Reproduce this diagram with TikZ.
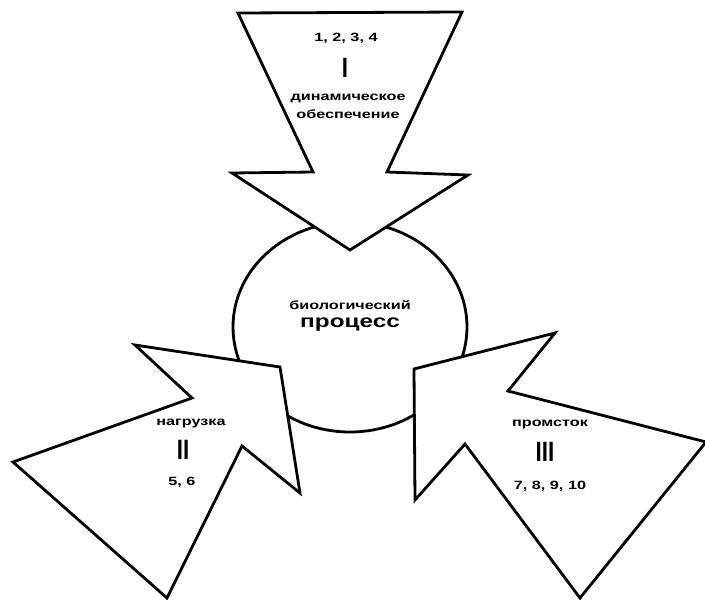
\documentclass[tikz,border=0pt]{standalone}
\usepackage{fontspec}
\setmainfont{Liberation Sans}[FakeStretch=1.35]
\newfontfamily\romfont{Liberation Sans}[FakeStretch=0.8]
\usetikzlibrary{shapes.geometric}

\begin{document}
\begin{tikzpicture}[x=1pt, y=-1pt, line width=2.8pt,
  every node/.style = {align=center, inner sep=0pt, font=\bfseries\fontsize{12}{18}\selectfont},
  arrowshape/.style = {draw, fill=white, line join=miter},
  roman/.style = {font=\romfont\bfseries\fontsize{28}{28}\selectfont}]
\useasboundingbox (0,0) rectangle (705,600);
% process
\node[draw, ellipse, minimum width=234pt, minimum height=210pt] (process) at (350,327) {};
% arrows
\draw[arrowshape] (238,13) -- (462,12) -- (387,172) -- (468,175) -- (350,250) -- (232,173) -- (313,172) -- cycle;
\draw[arrowshape] (135,345) -- (280,367) -- (300,493) -- (242,446) -- (167,598) -- (13,462) -- (192,398) -- cycle;
\draw[arrowshape] (414,369) -- (555,333) -- (508,391) -- (706,442) -- (580,598) -- (465,444) -- (415,500) -- cycle;
% texts
\node (bio) at (350,305) {биологический};
\node[font=\bfseries\fontsize{18}{18}\selectfont] (proc) at (350,325) {процесс};
\node (nums1) at (346,38) {1, 2, 3, 4};
\node[roman] (rom1) at (345,68) {I};
\node (dyn) at (348,106) {динамическое\\обеспечение};
\node (load) at (191,424) {нагрузка};
\node[roman] (rom2) at (183,450) {II};
\node (nums2) at (182,482) {5, 6};
\node (sink) at (550,425) {промсток};
\node[roman] (rom3) at (545,452) {III};
\node (nums3) at (550,486) {7, 8, 9, 10};
\end{tikzpicture}
\end{document}
